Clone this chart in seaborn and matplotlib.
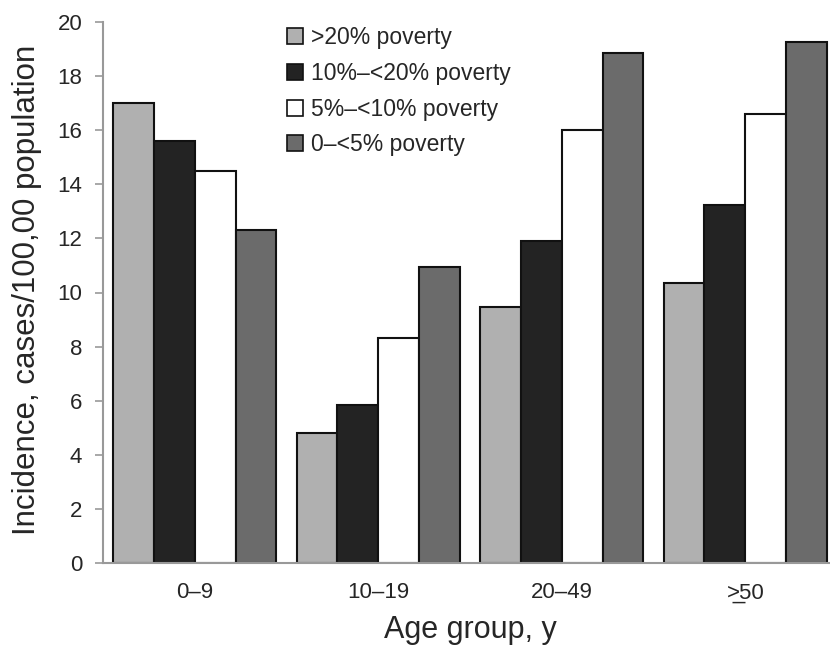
import pandas as pd
import matplotlib
matplotlib.use('Agg')
import matplotlib.pyplot as plt
from matplotlib.patches import Patch
import seaborn as sns

# Dados do gráfico
grupos = ['0–9', '10–19', '20–49', '>50']
rotulos_x = ['0–9', '10–19', '20–49', '>\u033250']
pobreza = ['>20% poverty', '10%–<20% poverty', '5%–<10% poverty', '0–<5% poverty']
v_20 = [17.0, 4.8, 9.45, 10.35]
v_10_20 = [15.6, 5.85, 11.9, 13.25]
v_5_10 = [14.5, 8.3, 16.0, 16.6]
v_0_5 = [12.3, 10.95, 18.85, 19.25]
cores = ['#b0b0b0', '#232323', '#ffffff', '#6b6b6b']

df = pd.DataFrame({
    'grupo': grupos * 4,
    'pobreza': [p for p in pobreza for _ in grupos],
    'valor': v_20 + v_10_20 + v_5_10 + v_0_5,
})

sns.set_style('white')
plt.rcParams['font.family'] = ['Liberation Sans', 'DejaVu Sans']

fig = plt.figure(figsize=(8.3, 6.47), dpi=100)
ax = fig.add_axes([103 / 830, 84 / 647, 734 / 830, 541 / 647])

sns.barplot(data=df, x='grupo', y='valor', hue='pobreza', hue_order=pobreza,
            order=grupos, palette=cores, width=0.89, edgecolor='#111111',
            linewidth=1.5, saturation=1, legend=False, ax=ax)

ax.set_xlim(-0.5, 3.5)
ax.set_ylim(0, 20)
ax.set_yticks(range(0, 21, 2))
ax.set_xticks(range(4))
ax.set_xticklabels(rotulos_x)
ax.tick_params(axis='y', direction='out', length=6, width=1.2, color='#999999',
               labelsize=16, left=True, pad=9)
ax.tick_params(axis='x', length=0, labelsize=16, pad=14)

for lado in ['top', 'right']:
    ax.spines[lado].set_visible(False)
for lado in ['left', 'bottom']:
    ax.spines[lado].set_color('#999999')
    ax.spines[lado].set_linewidth(1.5)

ax.set_xlabel('Age group, y', fontsize=22, labelpad=8)
ax.set_ylabel('Incidence, cases/100,00 population', fontsize=22.5)
ax.yaxis.set_label_coords(-0.083, 0.505)

handles = [Patch(facecolor=c, edgecolor='#111111', linewidth=1.2) for c in cores]
ax.legend(handles, pobreza, loc='upper left', bbox_to_anchor=(0.222, 1.03),
          frameon=False, fontsize=16.5, handlelength=0.7, handleheight=0.7,
          handletextpad=0.35, labelspacing=0.55)

plt.savefig('out.png', dpi=100)
